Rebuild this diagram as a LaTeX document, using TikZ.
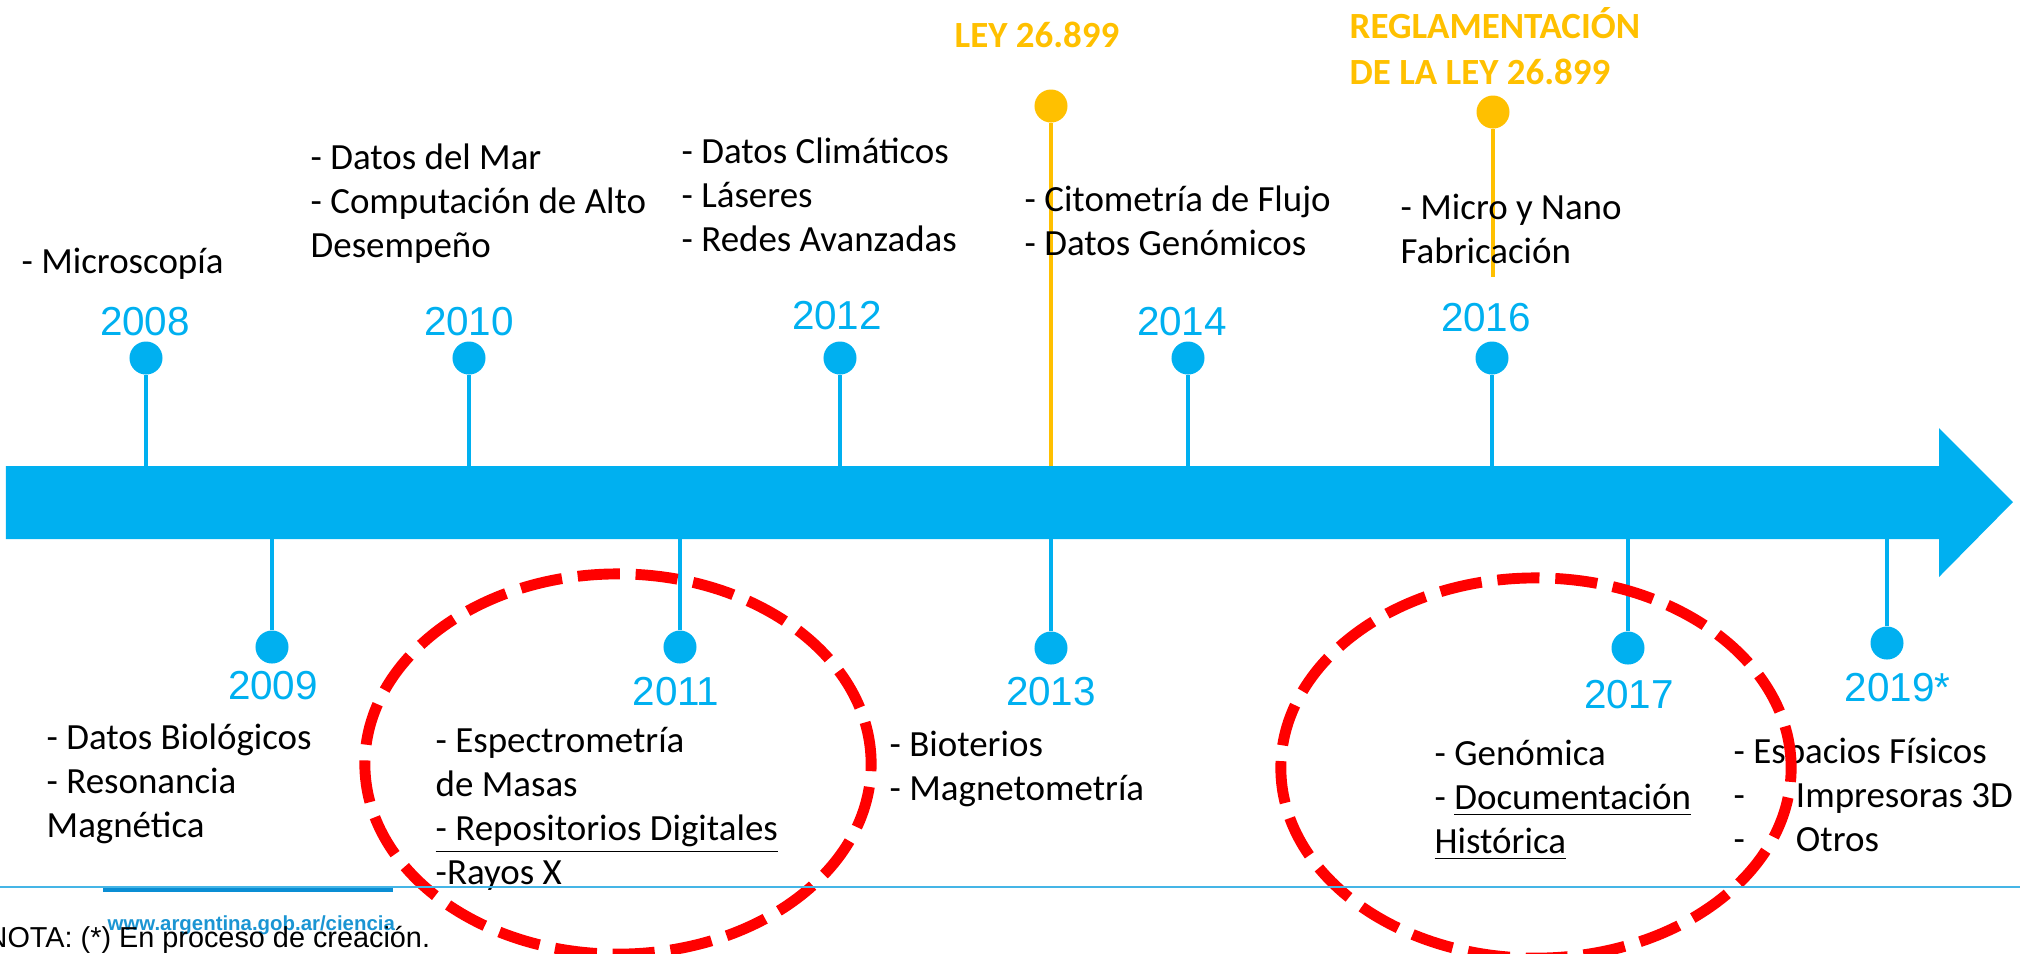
\documentclass[tikz,border=0pt]{standalone}
\usepackage{fontspec}
\setmainfont{Carlito}
\newfontfamily\arialfont{Liberation Sans}
\definecolor{tlblue}{HTML}{00B0F0}
\definecolor{leyyellow}{HTML}{FFC000}
\definecolor{webblue}{HTML}{1B95D3}
\definecolor{rulelight}{HTML}{45B5E6}
\definecolor{ruledark}{HTML}{0A8ED4}
\tikzset{
	dot/.style = {circle, fill = tlblue, inner sep = 0pt, minimum size = 0.33cm},
	leydot/.style = {dot, fill = leyyellow},
	stem/.style = {tlblue, line width = 1.2pt},
	leystem/.style = {leyyellow, line width = 1.2pt},
	year/.style = {anchor = base, inner sep = 0pt, text = tlblue, font = \arialfont\fontsize{11.5}{13}\selectfont},
	items/.style = {anchor = base west, inner sep = 0pt, align = left, font = \fontsize{10.5}{12.5}\selectfont},
	leylabel/.style = {items, text = leyyellow, font = \bfseries\fontsize{10.5}{13}\selectfont},
	ring/.style = {draw = red, line width = 3.1pt, dash pattern = on 12pt off 4.5pt}
}
\begin{document}
\begin{tikzpicture}[x = 0.01cm, y = -0.01cm]
	\useasboundingbox (0, 0) rectangle (2020, 953);
	% main arrow
	\fill [tlblue] (6, 466) -- (1939, 466) -- (1939, 428) -- (2013, 502) -- (1939, 577) -- (1939, 539) -- (6, 539) -- cycle;
	\coordinate (top) at (0, 466);
	\coordinate (bot) at (0, 539);

	% years above
	\node [dot] (d2008) at (146, 358) {};
	\node [dot] (d2010) at (469, 358) {};
	\node [dot] (d2012) at (840, 358) {};
	\node [dot] (d2014) at (1188, 358) {};
	\node [dot] (d2016) at (1492, 358) {};
	\draw [stem] (d2008.south) -- (d2008.south |- top);
	\draw [stem] (d2010.south) -- (d2010.south |- top);
	\draw [stem] (d2012.south) -- (d2012.south |- top);
	\draw [stem] (d2014.south) -- (d2014.south |- top);
	\draw [stem] (d2016.south) -- (d2016.south |- top);
	\node [year] (y2008) at (145, 335) {2008};
	\node [year] (y2010) at (469, 335) {2010};
	\node [year] (y2012) at (837, 329) {2012};
	\node [year] (y2014) at (1182, 335) {2014};
	\node [year] (y2016) at (1486, 331) {2016};

	% years below
	\node [dot] (d2009) at (272, 647) {};
	\node [dot] (d2011) at (680, 647) {};
	\node [dot] (d2013) at (1051, 648) {};
	\node [dot] (d2017) at (1628, 648) {};
	\node [dot] (d2019) at (1887, 643) {};
	\draw [stem] (d2009.north) -- (d2009.north |- bot);
	\draw [stem] (d2011.north) -- (d2011.north |- bot);
	\draw [stem] (d2013.north) -- (d2013.north |- bot);
	\draw [stem] (d2017.north) -- (d2017.north |- bot);
	\draw [stem] (d2019.north) -- (d2019.north |- bot);
	\node [year] (y2009) at (273, 699) {2009};
	\node [year] (y2011) at (676, 705) {2011};
	\node [year] (y2013) at (1051, 705) {2013};
	\node [year] (y2017) at (1629, 708) {2017};
	\node [year, anchor = base west] (y2019) at (1844, 701) {2019*};

	% the law
	\node [leydot] (dley) at (1051, 106) {};
	\node [leydot] (dregl) at (1493, 112) {};
	\coordinate (reglend) at (1493, 277);
	\draw [leystem] (dley.south) -- (dley.south |- top);
	\draw [leystem] (dregl.south) -- (reglend);
	\node [leylabel] (ley) at (954, 47) {LEY 26.899};
	\node [leylabel] (regl) at (1349, 84) {REGLAMENTACIÓN\\DE LA LEY 26.899};

	% platforms (placed at the base of their last line)
	\node [items] (t2008) at (21, 273) {- Microscopía};
	\node [items] (t2010) at (310, 257) {- Datos del Mar\\- Computación de Alto\\Desempeño};
	\node [items] (t2012) at (681, 251) {- Datos Climáticos\\- Láseres\\- Redes Avanzadas};
	\node [items] (t2014) at (1024, 255) {- Citometría de Flujo\\- Datos Genómicos};
	\node [items] (t2016) at (1400, 263) {- Micro y Nano\\Fabricación};
	\node [items] (t2009) at (46, 837) {- Datos Biológicos\\- Resonancia\\Magnética};
	\node [items] (t2011) at (435, 884) {- Espectrometría\\de Masas\\\underline{- Repositorios Digitales}\\-Rayos X};
	\node [items] (t2013) at (889, 800) {- Bioterios\\- Magnetometría};
	\node [items] (t2017) at (1434, 853) {- Genómica\\- \underline{Documentación}\\\underline{Histórica}};
	\node [items] (t2019) at (1733, 851) {- Espacios Físicos\\-\hspace{14.5pt}Impresoras 3D\\-\hspace{14.5pt}Otros};

	% marks
	\draw [ring] (618, 764) ellipse [x radius = 2.53cm, y radius = 1.9cm];
	\draw [ring] (1536, 768) ellipse [x radius = 2.55cm, y radius = 1.9cm];

	% footer
	\draw [rulelight, line width = 0.8pt] (0, 887) -- (2020, 887);
	\draw [ruledark, line width = 1.4pt] (103, 890) -- (393, 890);
	\node [anchor = base west, inner sep = 0pt, text = webblue, font = \arialfont\bfseries\fontsize{5.8}{7}\selectfont] (web) at (107, 930) {www.argentina.gob.ar/ciencia};
	\node [anchor = base west, inner sep = 0pt, font = \arialfont\fontsize{8.2}{10}\selectfont] (nota) at (-14, 947) {NOTA: (*) En proceso de creación.};
\end{tikzpicture}
\end{document}
